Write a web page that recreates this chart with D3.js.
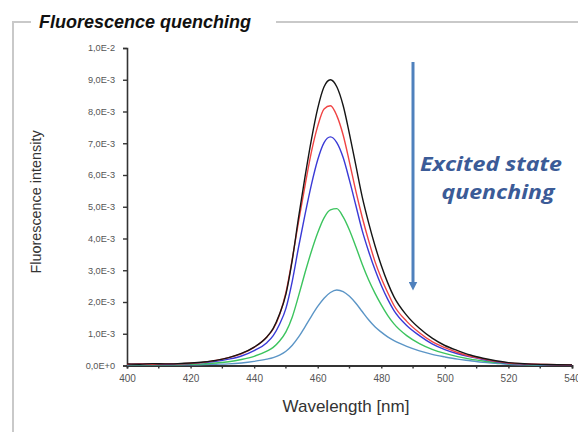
<!DOCTYPE html>
<html><head><meta charset="utf-8">
<script src="https://cdn.jsdelivr.net/npm/d3@7"></script>
<style>
html,body{margin:0;padding:0;background:#fff;}
svg{display:block;}
</style></head>
<body>
<script>
// ---- Data (intensity in units of 1E-3) ----
const wavelengths = [400,404,408,412,416,420,424,428,432,436,440,444,446,448,450,452,454,456,458,460,462,464,466,468,470,472,474,476,478,480,482,484,488,492,496,500,504,508,512,516,520,526,532,540];
const seriesBlack = [0.05,0.04,0.06,0.05,0.06,0.08,0.11,0.16,0.25,0.38,0.58,0.90,1.17,1.62,2.25,3.33,4.68,5.94,7.11,8.10,8.78,9.00,8.78,8.19,7.29,6.30,5.31,4.50,3.78,3.15,2.61,2.16,1.58,1.17,0.86,0.63,0.47,0.33,0.23,0.15,0.09,0.05,0.03,0.02];
const seriesRed = [0.04,0.05,0.04,0.05,0.05,0.07,0.10,0.16,0.25,0.37,0.57,0.90,1.15,1.60,2.30,3.36,4.55,5.66,6.72,7.54,8.08,8.18,7.87,7.26,6.40,5.49,4.67,3.94,3.28,2.75,2.30,1.89,1.39,1.03,0.75,0.56,0.41,0.29,0.21,0.13,0.08,0.05,0.03,0.02];
const seriesBlue = [0.03,0.05,0.04,0.04,0.05,0.06,0.09,0.13,0.20,0.30,0.47,0.72,0.94,1.30,1.80,2.66,3.74,4.75,5.69,6.48,7.02,7.20,7.02,6.55,5.83,5.04,4.25,3.60,3.02,2.52,2.09,1.73,1.26,0.94,0.68,0.50,0.37,0.27,0.19,0.12,0.07,0.04,0.02,0.01];
const seriesGreen = [0.03,0.03,0.03,0.03,0.03,0.04,0.05,0.08,0.12,0.19,0.29,0.45,0.57,0.77,1.06,1.53,2.20,2.92,3.59,4.18,4.65,4.90,4.94,4.68,4.26,3.74,3.19,2.70,2.28,1.91,1.58,1.31,0.94,0.69,0.51,0.38,0.28,0.20,0.14,0.09,0.06,0.03,0.02,0.01];
const seriesLightBlue = [0.02,0.02,0.02,0.02,0.02,0.02,0.03,0.04,0.05,0.08,0.13,0.20,0.25,0.33,0.45,0.64,0.90,1.22,1.55,1.86,2.12,2.30,2.38,2.33,2.18,1.96,1.70,1.44,1.22,1.05,0.90,0.78,0.60,0.46,0.35,0.27,0.20,0.15,0.10,0.07,0.04,0.02,0.01,0.01];
const seriesNames = ["lightblue","green","blue","red","black"];
const seriesColors = ["#5b95c6","#3cc45e","#3a3ad6","#f04444","#151515"];
const xTicks = [400,420,440,460,480,500,520,540];
const xMinorTicks = [410,430,450,470,490,510,530];
const yTicks = [0,1,2,3,4,5,6,7,8,9,10];
const yTickLabels = ["0,0E+0","1,0E-3","2,0E-3","3,0E-3","4,0E-3","5,0E-3","6,0E-3","7,0E-3","8,0E-3","9,0E-3","1,0E-2"];
const titleText = "Fluorescence quenching";
const xLabel = "Wavelength [nm]";
const yLabel = "Fluorescence intensity";
const noteLines = ["Excited state","quenching"];

const W = 578, H = 432;
const svg = d3.select("body").append("svg").attr("width", W).attr("height", H);

// frame with title
const frame = svg.append("g").attr("stroke","#c9c9c9").attr("stroke-width",2).attr("fill","none");
frame.append("path").attr("d","M13,432 L13,22 L31,22");
frame.append("path").attr("d","M276,22 L578,22");
svg.append("text").attr("x",39).attr("y",28)
  .attr("font-family","Liberation Sans, Arial, sans-serif").attr("font-weight","bold").attr("font-style","italic")
  .attr("font-size",18).attr("fill","#111").text(titleText);

const x = d3.scaleLinear().domain([400,540]).range([127,572]);
const y = d3.scaleLinear().domain([0,10]).range([365.5,48]);

const font = "Liberation Sans, Arial, sans-serif";

// y axis
const yAxis = d3.axisLeft(y).tickValues(yTicks).tickSize(4).tickPadding(8)
  .tickFormat((d,i)=>yTickLabels[i]);
const gy = svg.append("g").attr("transform",`translate(${x(400)},0)`).call(yAxis);
gy.select(".domain").attr("stroke","#333").attr("stroke-width",1.6);
gy.selectAll(".tick line").attr("stroke","#333").attr("stroke-width",1.4);
gy.selectAll(".tick text").attr("font-family",font).attr("font-size",9.2).attr("fill","#555");

// x axis
const xAxis = d3.axisBottom(x).tickValues(xTicks).tickSize(3).tickPadding(6).tickFormat(d=>d);
const gx = svg.append("g").attr("transform",`translate(0,${y(0)})`).call(xAxis);
gx.select(".domain").attr("stroke","#333").attr("stroke-width",1.8);
gx.selectAll(".tick line").attr("stroke","#333").attr("stroke-width",1.4);
gx.selectAll(".tick text").attr("font-family",font).attr("font-size",10).attr("fill","#555");
gx.selectAll(".minor").data(xMinorTicks).enter().append("line").attr("class","minor")
  .attr("x1",d=>x(d)).attr("x2",d=>x(d)).attr("y1",0).attr("y2",3)
  .attr("stroke","#333").attr("stroke-width",1.4);

// axis labels
svg.append("text").attr("x",346).attr("y",412).attr("text-anchor","middle")
  .attr("font-family",font).attr("font-size",17).attr("fill","#333").text(xLabel);
svg.append("text").attr("transform","translate(41,202) rotate(-90)").attr("text-anchor","middle")
  .attr("font-family",font).attr("font-size",14.4).attr("fill","#333").text(yLabel);

// series
const allSeries = [seriesLightBlue, seriesGreen, seriesBlue, seriesRed, seriesBlack];
const line = d3.line().x((d,i)=>x(wavelengths[i])).y(d=>y(d)).curve(d3.curveMonotoneX);
svg.append("g").selectAll("path").data(allSeries).enter().append("path")
  .attr("d",d=>line(d)).attr("fill","none")
  .attr("stroke",(d,i)=>seriesColors[i]).attr("stroke-width",1.4)
  .attr("class",(d,i)=>"series-"+seriesNames[i]);

// arrow annotation
const defs = svg.append("defs");
defs.append("marker").attr("id","ah").attr("viewBox","0 0 10 10").attr("refX",5).attr("refY",5)
  .attr("markerWidth",3).attr("markerHeight",3).attr("orient","auto")
  .append("path").attr("d","M0,0 L10,5 L0,10 Z").attr("fill","#4f81bd");
svg.append("line").attr("x1",413).attr("x2",413).attr("y1",62).attr("y2",286)
  .attr("stroke","#4f81bd").attr("stroke-width",3).attr("marker-end","url(#ah)");
const noteFont = "Open Sans, Lato, sans-serif";
svg.append("text").attr("x",491).attr("y",171).attr("text-anchor","middle")
  .attr("font-family",noteFont).attr("font-weight","bold").attr("font-style","italic")
  .attr("font-size",19).attr("textLength",142).attr("lengthAdjust","spacingAndGlyphs")
  .attr("fill","#3b5b97").text(noteLines[0]);
svg.append("text").attr("x",498).attr("y",199).attr("text-anchor","middle")
  .attr("font-family",noteFont).attr("font-weight","bold").attr("font-style","italic")
  .attr("font-size",19).attr("textLength",113).attr("lengthAdjust","spacingAndGlyphs")
  .attr("fill","#3b5b97").text(noteLines[1]);
</script>
</body></html>
